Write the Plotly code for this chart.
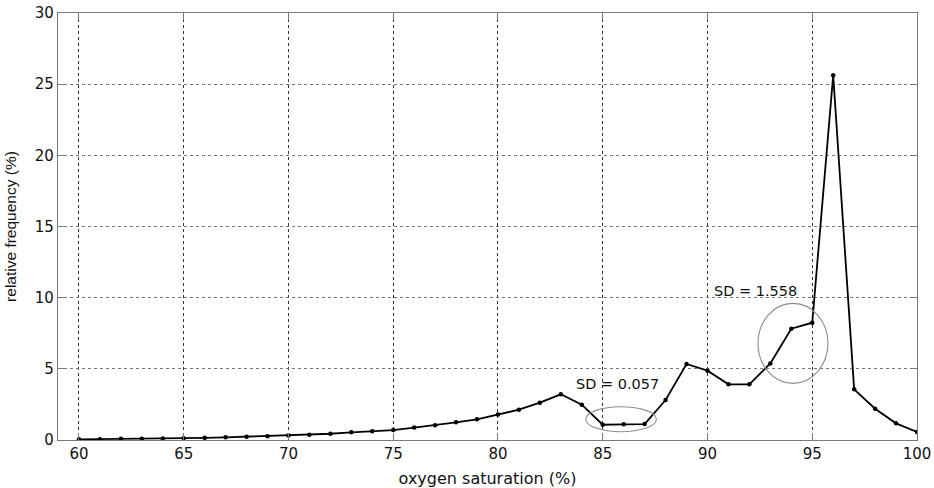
import plotly.graph_objects as go

# oxygen saturation (%) categories
saturation = list(range(60, 101))
# relative frequency (%)
rel_freq = [0.05, 0.06, 0.08, 0.09, 0.10, 0.13, 0.15, 0.19, 0.23, 0.27,
            0.31, 0.37, 0.44, 0.54, 0.61, 0.70, 0.87, 1.03, 1.24, 1.45,
            1.80, 2.13, 2.62, 3.21, 2.48, 1.07, 1.10, 1.12, 2.81, 5.34,
            4.87, 3.91, 3.91, 5.38, 7.82, 8.24, 25.63, 3.56, 2.20, 1.17,
            0.56]

x_ticks = [60, 65, 70, 75, 80, 85, 90, 95, 100]
y_ticks = [0, 5, 10, 15, 20, 25, 30]

# annotation texts and ellipse extents (data units)
sd_labels = ["SD = 0.057", "SD = 1.558"]
sd_label_x = [85.72, 92.31]
sd_label_y = [3.93, 10.49]
ellipse_x0 = [84.19, 92.41]
ellipse_x1 = [87.56, 95.75]
ellipse_y0 = [0.58, 3.98]
ellipse_y1 = [2.34, 9.60]

fig = go.Figure()
fig.add_trace(go.Scatter(
    x=saturation, y=rel_freq, mode="lines+markers",
    line=dict(color="black", width=1.8),
    marker=dict(color="black", size=4.5),
    showlegend=False,
))

for i in range(len(sd_labels)):
    fig.add_shape(type="circle", xref="x", yref="y",
                  x0=ellipse_x0[i], x1=ellipse_x1[i],
                  y0=ellipse_y0[i], y1=ellipse_y1[i],
                  line=dict(color="#8c8c8c", width=1.1))
    fig.add_annotation(x=sd_label_x[i], y=sd_label_y[i], text=sd_labels[i],
                       showarrow=False, xref="x", yref="y",
                       font=dict(family="DejaVu Sans", size=14.5, color="#111"))

axis_common = dict(
    showline=True, linecolor="#7a7a7a", linewidth=1.3, mirror="ticks",
    ticks="inside", ticklen=7, tickcolor="#7a7a7a", tickwidth=1,
    zeroline=False, automargin=False,
    tickfont=dict(family="DejaVu Sans", size=15, color="#111"),
)

fig.update_xaxes(
    range=[59, 100], tickvals=x_ticks, ticktext=[str(v) for v in x_ticks],
    showgrid=True, gridcolor="#333333", griddash="dot", gridwidth=1,
    title=dict(text="oxygen saturation (%)", standoff=20,
               font=dict(family="DejaVu Sans", size=16, color="#111")),
    **axis_common,
)
fig.update_yaxes(
    range=[0, 30], tickvals=y_ticks, ticktext=[str(v) for v in y_ticks],
    showgrid=True, gridcolor="#777777", griddash="dot", gridwidth=1,
    title=dict(text="relative frequency (%)", standoff=14,
               font=dict(family="Liberation Sans", size=15.5, color="#111")),
    **axis_common,
)

fig.update_layout(
    width=934, height=488,
    margin=dict(l=58, r=17, t=13, b=48),
    paper_bgcolor="white", plot_bgcolor="white",
)

fig.write_html("out.html")
